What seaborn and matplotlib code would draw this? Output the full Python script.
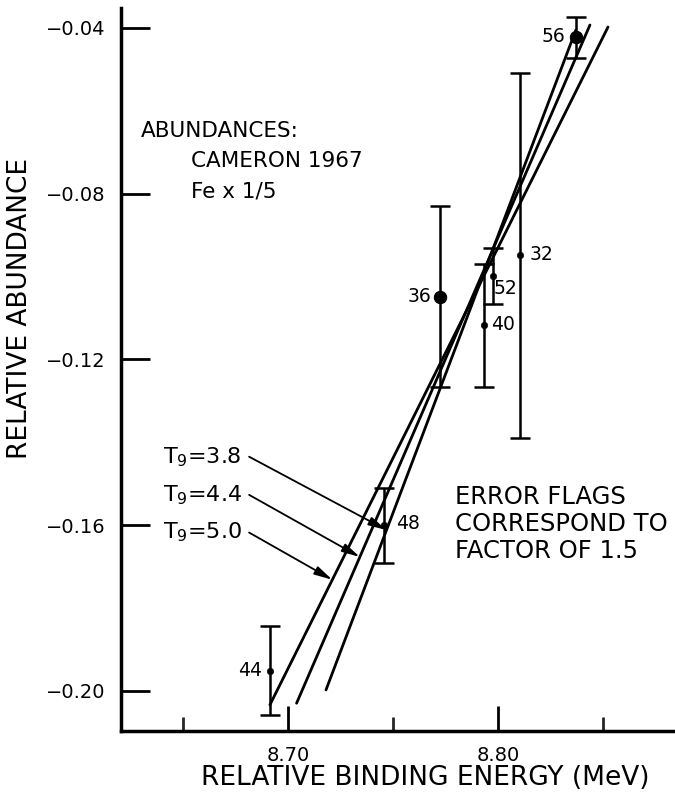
import numpy as np
import pandas as pd
import matplotlib
matplotlib.use("Agg")
import matplotlib.pyplot as plt
import seaborn as sns

# Nuclide points: mass number, relative binding energy, relative abundance
mass_labels = ["32", "36", "40", "44", "48", "52", "56"]
binding_energy = [8.8106, 8.7724, 8.7933, 8.6914, 8.7459, 8.7978, 8.8370]
abundance = [-0.0948, -0.1049, -0.1117, -0.1951, -0.1600, -0.1000, -0.0421]
abundance_hi = [-0.0508, -0.0831, -0.0970, -0.1843, -0.1511, -0.0932, -0.0373]
abundance_lo = [-0.1389, -0.1266, -0.1266, -0.2058, -0.1691, -0.1067, -0.0472]
big_marker = [False, True, False, False, False, False, True]

# Equilibrium lines for three temperatures (end points)
t9_values = ["3.8", "4.4", "5.0"]
line_x0 = [8.7181, 8.7041, 8.6914]
line_y0 = [-0.1998, -0.2030, -0.2034]
line_x1 = [8.8371, 8.8438, 8.8524]
line_y1 = [-0.0405, -0.0393, -0.0398]
arrow_tip_y = [-0.1612, -0.1677, -0.1732]

sns.set_theme(style="ticks")
plt.rcParams["font.family"] = ["DejaVu Sans"]
plt.rcParams["mathtext.fontset"] = "dejavusans"

fig = plt.figure(figsize=(6.75, 7.94), dpi=100)
ax = fig.add_axes([121 / 675, 63 / 794, 554 / 675, 723 / 794])

# temperature lines
lines = pd.DataFrame({
    "energy": line_x0 + line_x1,
    "abundance": line_y0 + line_y1,
    "T9": t9_values * 2,
})
sns.lineplot(data=lines, x="energy", y="abundance", hue="T9",
             palette=["black"] * 3, legend=False, lw=2.0, ax=ax,
             estimator=None, sort=True)

# error flags
yerr = [np.array(abundance) - np.array(abundance_lo),
        np.array(abundance_hi) - np.array(abundance)]
ax.errorbar(binding_energy, abundance, yerr=yerr, fmt="none",
            ecolor="black", elinewidth=1.8, capsize=7, capthick=1.8)

pts = pd.DataFrame({"energy": binding_energy, "abundance": abundance,
                    "big": big_marker})
sns.scatterplot(data=pts[pts["big"]], x="energy", y="abundance", s=80,
                color="black", edgecolor="black", ax=ax, zorder=5)
sns.scatterplot(data=pts[~pts["big"]], x="energy", y="abundance", s=22,
                color="black", edgecolor="black", ax=ax, zorder=5)

# mass-number labels
label_pos = {
    "32": (8.8152, -0.0948, "left"),
    "36": (8.7684, -0.1049, "right"),
    "40": (8.7965, -0.1117, "left"),
    "44": (8.6876, -0.1950, "right"),
    "48": (8.7514, -0.1597, "left"),
    "52": (8.7981, -0.1028, "left"),
    "56": (8.8320, -0.0420, "right"),
}
for lab in mass_labels:
    x, y, ha = label_pos[lab]
    ax.text(x, y, lab, ha=ha, va="center", fontsize=13.5, color="black")

# temperature annotations
label_y = [-0.1435, -0.1527, -0.1618]
for t9, ly, ty, x0, y0, x1, y1 in zip(t9_values, label_y, arrow_tip_y,
                                      line_x0, line_y0, line_x1, line_y1):
    tx = x0 + (ty - y0) * (x1 - x0) / (y1 - y0)
    ax.text(8.6405, ly, r"T$_9$=" + t9, ha="left", va="center",
            fontsize=16, color="black")
    ax.annotate("", xy=(tx, ty), xytext=(8.6815, ly),
                arrowprops=dict(arrowstyle="-|>,head_length=0.9,head_width=0.22",
                                color="black", lw=1.3, shrinkA=0, shrinkB=0))

ax.text(8.6300, -0.0650, "ABUNDANCES:", ha="left", va="center",
        fontsize=15.5, color="black")
ax.text(8.6540, -0.0722, "CAMERON 1967", ha="left", va="center",
        fontsize=15.5, color="black")
ax.text(8.6540, -0.0795, "Fe x 1/5", ha="left", va="center",
        fontsize=15.5, color="black")

ax.text(8.7795, -0.1532, "ERROR FLAGS", ha="left", va="center",
        fontsize=17.5, color="black")
ax.text(8.7795, -0.1597, "CORRESPOND TO", ha="left", va="center",
        fontsize=17.5, color="black")
ax.text(8.7795, -0.1662, "FACTOR OF 1.5", ha="left", va="center",
        fontsize=17.5, color="black")

ax.set_xlim(8.6205, 8.8843)
ax.set_ylim(-0.2097, -0.0352)

yticks = [-0.04, -0.08, -0.12, -0.16, -0.20]
ax.set_yticks(yticks)
ax.set_yticklabels(["\u22120.04", "\u22120.08", "\u22120.12", "\u22120.16", "\u22120.20"])
ax.set_xticks([8.70, 8.80])
ax.set_xticklabels(["8.70", "8.80"])
ax.set_xticks([8.65, 8.75, 8.85], minor=True)

ax.tick_params(axis="y", direction="in", length=21, width=2, pad=11,
               labelsize=14, colors="black")
ax.tick_params(axis="x", which="major", direction="in", length=18, width=2,
               pad=11, labelsize=14, colors="black")
ax.tick_params(axis="x", which="minor", direction="in", length=10, width=2)

for side in ["top", "right"]:
    ax.spines[side].set_visible(False)
for side in ["left", "bottom"]:
    ax.spines[side].set_linewidth(2.5)
    ax.spines[side].set_color("black")

ax.set_xlabel("RELATIVE BINDING ENERGY (MeV)", fontsize=19, color="black")
ax.set_ylabel("RELATIVE ABUNDANCE", fontsize=19, color="black")
ax.xaxis.set_label_coords(0.55, -0.047)
ax.yaxis.set_label_coords(-0.158, 0.585)

ax.set_facecolor("white")
fig.patch.set_facecolor("white")
fig.savefig("out.png", dpi=100)
